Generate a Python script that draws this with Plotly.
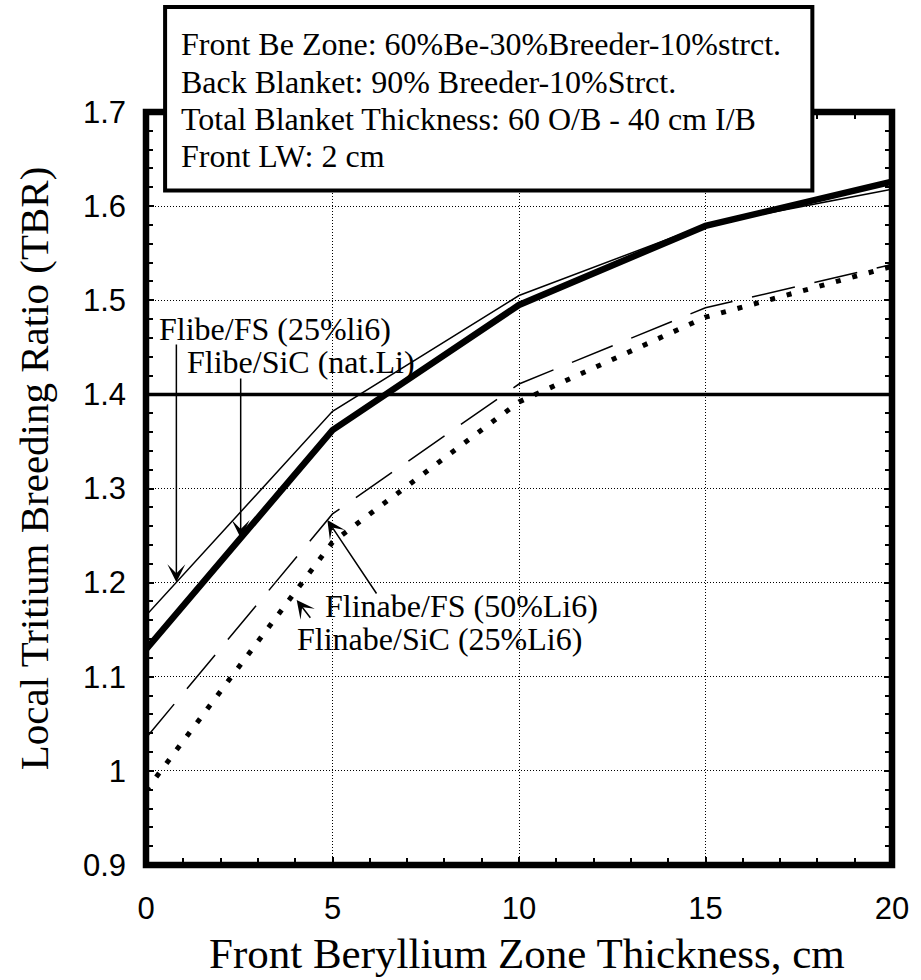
import plotly.graph_objects as go

# ---------------- data ----------------
thickness = [0, 5, 10, 15, 20]
flibe_fs_25li6 = [1.165, 1.382, 1.505, 1.580, 1.618]
flibe_sic_natli = [1.129, 1.362, 1.495, 1.579, 1.626]
flinabe_fs_50li6 = [1.035, 1.273, 1.411, 1.492, 1.538]
flinabe_sic_25li6 = [0.979, 1.243, 1.392, 1.482, 1.536]

x_tickvals = [0, 5, 10, 15, 20]
y_tickvals = [0.9, 1.0, 1.1, 1.2, 1.3, 1.4, 1.5, 1.6, 1.7]
y_ticktext = ["0.9", "1", "1.1", "1.2", "1.3", "1.4", "1.5", "1.6", "1.7"]
target_tbr = 1.4

box_lines = [
    "Front Be Zone: 60%Be-30%Breeder-10%strct.",
    "Back Blanket: 90% Breeder-10%Strct.",
    "Total Blanket Thickness: 60 O/B - 40 cm I/B",
    "Front LW: 2 cm",
]

# ---------------- layout geometry ----------------
W, H = 921, 980
L, R, T, B = 146, 21, 112, 115
PW = W - L - R
PH = H - T - B


def px_x(px):
    return (px - L) / PW


def px_y(py):
    return (H - B - py) / PH


def dx(px):
    return (px - L) / PW * 20


def dy(py):
    return 1.7 - (py - T) / PH * 0.8


def interp(xs, ys, x):
    for i in range(len(xs) - 1):
        if xs[i] <= x <= xs[i + 1]:
            t = (x - xs[i]) / (xs[i + 1] - xs[i])
            return ys[i] + t * (ys[i + 1] - ys[i])
    return ys[-1]


SERIF = "Liberation Serif, Times New Roman, serif"
SANS = "Liberation Sans, Arial, sans-serif"

fig = go.Figure()
fig.add_trace(go.Scatter(x=thickness, y=flibe_fs_25li6, mode="lines",
                         line=dict(color="black", width=1.5),
                         name="Flibe/FS (25%li6)"))
fig.add_trace(go.Scatter(x=thickness, y=flibe_sic_natli, mode="lines",
                         line=dict(color="black", width=6.5),
                         name="Flibe/SiC (nat.Li)"))
fig.add_trace(go.Scatter(x=thickness, y=flinabe_fs_50li6, mode="lines",
                         line=dict(color="black", width=1.5, dash="44px,20px"),
                         name="Flinabe/FS (50%Li6)"))
fig.add_trace(go.Scatter(x=thickness, y=flinabe_sic_25li6, mode="lines",
                         line=dict(color="black", width=5, dash="5px,12px"),
                         name="Flinabe/SiC (25%Li6)"))

axis_common = dict(
    ticks="inside", ticklen=8, tickwidth=1.5, tickcolor="black",
    mirror="ticks", showline=False, zeroline=False,
    showgrid=True, gridcolor="black", gridwidth=1, griddash="1px,2px",
    tickfont=dict(family=SANS, size=31, color="black"),
)

fig.update_xaxes(range=[0, 20], tickvals=x_tickvals,
                 minor=dict(dtick=1, ticks="inside", ticklen=7, tickwidth=1.5,
                            tickcolor="black", showgrid=False),
                 ticklabelstandoff=22, **axis_common)
fig.update_yaxes(range=[0.9, 1.7], tickvals=y_tickvals, ticktext=y_ticktext,
                 minor=dict(dtick=0.02, tick0=0.9, ticks="inside", ticklen=7,
                            tickwidth=1.5, tickcolor="black", showgrid=False),
                 ticklabelstandoff=19, **axis_common)

shapes = [
    dict(type="line", xref="x", yref="y", x0=0, x1=20, y0=target_tbr, y1=target_tbr,
         line=dict(color="black", width=3.5), layer="below"),
    dict(type="rect", xref="paper", yref="paper", x0=0, x1=1, y0=0, y1=1,
         line=dict(color="black", width=6.5), fillcolor="rgba(0,0,0,0)", layer="above"),
    dict(type="rect", xref="paper", yref="paper",
         x0=px_x(165.3), x1=px_x(819.5), y0=px_y(190.5), y1=px_y(7),
         line=dict(color="black", width=4), fillcolor="white", layer="above"),
]

annotations = []
for i, line in enumerate(box_lines):
    annotations.append(dict(
        text=line, xref="paper", yref="paper", x=px_x(179), y=px_y(44.2 + 37.3 * i),
        xanchor="left", yanchor="middle", showarrow=False,
        font=dict(family=SERIF, size=32, color="black")))

labels = [
    ("Flibe/FS (25%li6)", 157, 329.2),
    ("Flibe/SiC (nat.Li)", 185, 362.2),
    ("Flinabe/FS (50%Li6)", 325, 605.9),
    ("Flinabe/SiC (25%Li6)", 297, 639.2),
]
for txt, lx, ly in labels:
    annotations.append(dict(
        text=txt, xref="paper", yref="paper", x=px_x(lx), y=px_y(ly),
        xanchor="left", yanchor="middle", showarrow=False,
        font=dict(family=SERIF, size=32, color="black")))

# arrows (tip on the curve, tail near the label)
arrow_specs = [
    (dx(176.7), interp(thickness, flibe_fs_25li6, dx(176.7)), dx(176.7), dy(343)),
    (dx(241.7), interp(thickness, flibe_sic_natli, dx(241.7)), dx(241.7), dy(377)),
    (dx(329.3), interp(thickness, flinabe_fs_50li6, dx(329.3)), dx(380), dy(595)),
    (dx(298.3), dy(600), dx(313.3), dy(619.3)),
]
for x, y, ax, ay in arrow_specs:
    annotations.append(dict(
        text="", x=x, y=y, ax=ax, ay=ay, xref="x", yref="y", axref="x", ayref="y",
        showarrow=True, arrowhead=3, arrowsize=2, arrowwidth=1.5, arrowcolor="black",
        standoff=0, startstandoff=0))

# axis titles
annotations.append(dict(
    text="Front Beryllium Zone Thickness, cm", xref="paper", yref="paper",
    x=px_x(531), y=px_y(954), xanchor="center", yanchor="middle", showarrow=False,
    font=dict(family=SERIF, size=43, color="black")))
annotations.append(dict(
    text="Local Tritium Breeding Ratio (TBR)", xref="paper", yref="paper",
    x=px_x(33), y=px_y(468), xanchor="center", yanchor="middle", showarrow=False,
    textangle=-90, font=dict(family=SERIF, size=41, color="black")))

fig.update_layout(
    width=W, height=H,
    margin=dict(l=L, r=R, t=T, b=B, pad=0),
    paper_bgcolor="white", plot_bgcolor="white",
    showlegend=False,
    shapes=shapes, annotations=annotations,
)

fig.write_html("out.html", config={"displayModeBar": False},
               post_script="document.body.style.margin='0px';")
